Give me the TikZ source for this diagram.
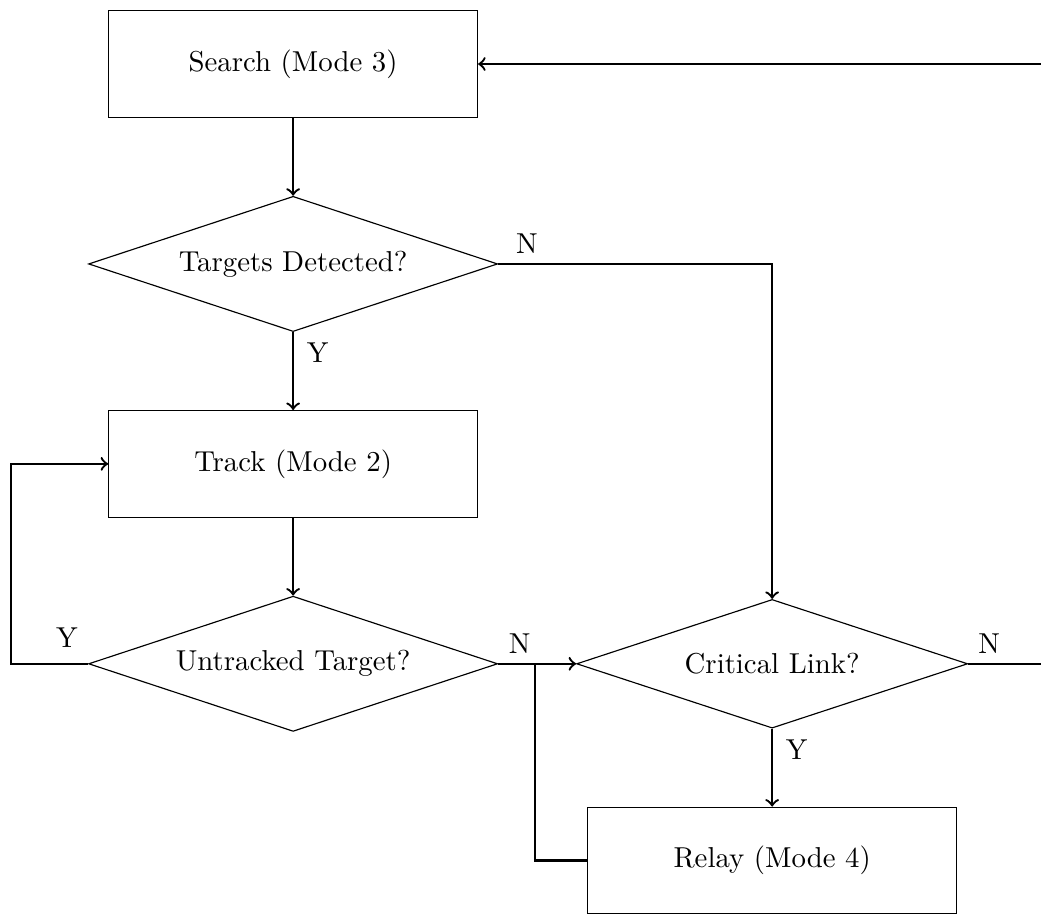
\documentclass[tikz,border=0pt]{standalone}
\usetikzlibrary{positioning,calc,shapes.geometric}

\begin{document}
\begin{tikzpicture}[node distance=0.95cm,
        block/.style={draw, rectangle, minimum width=4.5cm, minimum height=1.3cm},
        decision/.style={draw, diamond, aspect=3, inner sep=0pt, minimum width=4.99cm, minimum height=1.65cm},
        flow/.style={thick, ->}]
        \useasboundingbox (0,0) rectangle (12.70,-11.15);

        \node[block] (search) at (3.576,-0.781) {Search (Mode 3)};
        \node[decision, below=of search] (detect) {Targets Detected?};
        \node[block, below=of detect] (track) {Track (Mode 2)};
        \node[decision, below=of track] (untracked) {Untracked Target?};
        \node[decision, right=of untracked, minimum width=4.77cm, minimum height=1.57cm] (critical) {Critical Link?};
        \node[block, below=of critical] (relay) {Relay (Mode 4)};

        % helper points for the loops
        \coordinate (lft) at ([xshift=-0.94cm]untracked.west);
        \coordinate (rgt) at ([xshift=1cm]critical.east);
        \coordinate (jn)  at ($(untracked.east)!0.47!(critical.west)$);

        \draw[flow] (search) -- (detect);
        \draw[flow] (detect) -- (track) node[pos=0, below right, xshift=1pt] {Y};
        \draw[flow] (detect.east) -| (critical.north) node[pos=0, above right, xshift=2.5pt] {N};
        \draw[flow] (track) -- (untracked);
        \draw[flow] (untracked.west) -- (lft) |- (track.west);
        \node[above left, yshift=2pt] at (untracked.west) {Y};
        \draw[flow] (untracked.east) -- (critical.west) node[pos=0, above right] {N};
        \draw[thick] (relay.west) -| (jn);
        \draw[flow] (critical) -- (relay) node[pos=0, below right, xshift=1pt] {Y};
        \draw[flow] (critical.east) -- (rgt) |- (search.east);
        \node[above right] at (critical.east) {N};
\end{tikzpicture}
\end{document}
